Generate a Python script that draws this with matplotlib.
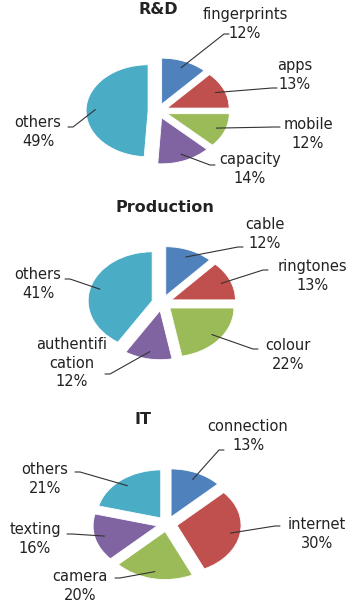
import numpy as np
import matplotlib
matplotlib.use('Agg')
from matplotlib import pyplot as plt

W, H = 354, 602

rd_labels = ['fingerprints', 'apps', 'mobile', 'capacity', 'others']
rd_values = [12, 13, 12, 14, 49]
prod_labels = ['cable', 'ringtones', 'colour', 'authentifi\ncation', 'others']
prod_values = [12, 13, 22, 12, 41]
it_labels = ['connection', 'internet', 'camera', 'texting', 'others']
it_values = [13, 30, 20, 16, 21]

colors = ['#4F81BD', '#C0504D', '#9BBB59', '#8064A2', '#4BACC6']


def draw_pie(fig, title, labels, values, center, radius, title_pos, text_pos, anchor_pos):
    cx, cy = center
    rx, ry = radius
    ax = fig.add_axes([0, 0, 1, 1])
    wedges, _ = ax.pie(values, colors=colors, startangle=90, counterclock=False,
                       explode=[0.16] * len(values),
                       wedgeprops=dict(edgecolor='white', linewidth=0.6))
    # squash the pie into an ellipse
    ax.set_aspect('auto')
    ax.set_xlim(-cx / rx, (W - cx) / rx)
    ax.set_ylim(-(H - cy) / ry, cy / ry)
    ax.axis('off')
    ax.patch.set_alpha(0)

    def to_data(px, py):
        return (px - cx) / rx, (cy - py) / ry

    for w, lab, v, tp, ap in zip(wedges, labels, values, text_pos, anchor_pos):
        mid = np.deg2rad((w.theta1 + w.theta2) / 2)
        wx, wy = w.center
        pt = (wx + 0.85 * np.cos(mid), wy + 0.85 * np.sin(mid))
        anc = to_data(*ap)
        angA = 180 if anc[0] > pt[0] else 0
        ax.annotate('', xy=pt, xytext=anc,
                    arrowprops=dict(arrowstyle='-', color='#333333', lw=0.8,
                                    shrinkA=0, shrinkB=0,
                                    connectionstyle='arc,angleA=%d,armA=5,angleB=0,armB=0,rad=0' % angA))
        ax.text(*to_data(*tp), lab + '\n%d%%' % v, ha='center', va='center',
                fontsize=10.5, linespacing=1.3, color='#222222')

    fig.text(title_pos[0] / W, 1 - title_pos[1] / H, title, ha='center', va='center',
             fontsize=11.5, fontweight='bold', color='#222222')


def main():
    fig = plt.figure(figsize=(W / 100, H / 100), dpi=100)

    draw_pie(fig, 'R&D', rd_labels, rd_values, (158, 111), (62, 46), (158, 10),
             [(245, 24), (295, 75), (308, 134), (250, 169), (38, 132)],
             [(229, 34), (277, 88), (280, 127), (215, 165), (68, 127)])

    draw_pie(fig, 'Production', prod_labels, prod_values, (162, 303), (64, 49), (165, 207),
             [(265, 234), (312, 276), (288, 355), (72, 363), (38, 284)],
             [(243, 247), (268, 270), (258, 349), (105, 374), (65, 279)])

    draw_pie(fig, 'IT', it_labels, it_values, (167, 524), (64, 48), (143, 420),
             [(248, 436), (317, 534), (80, 586), (35, 539), (45, 479)],
             [(224, 450), (280, 526), (115, 578), (67, 534), (75, 472)])

    fig.savefig('out.png', dpi=100)


if __name__ == "__main__":
    main()
